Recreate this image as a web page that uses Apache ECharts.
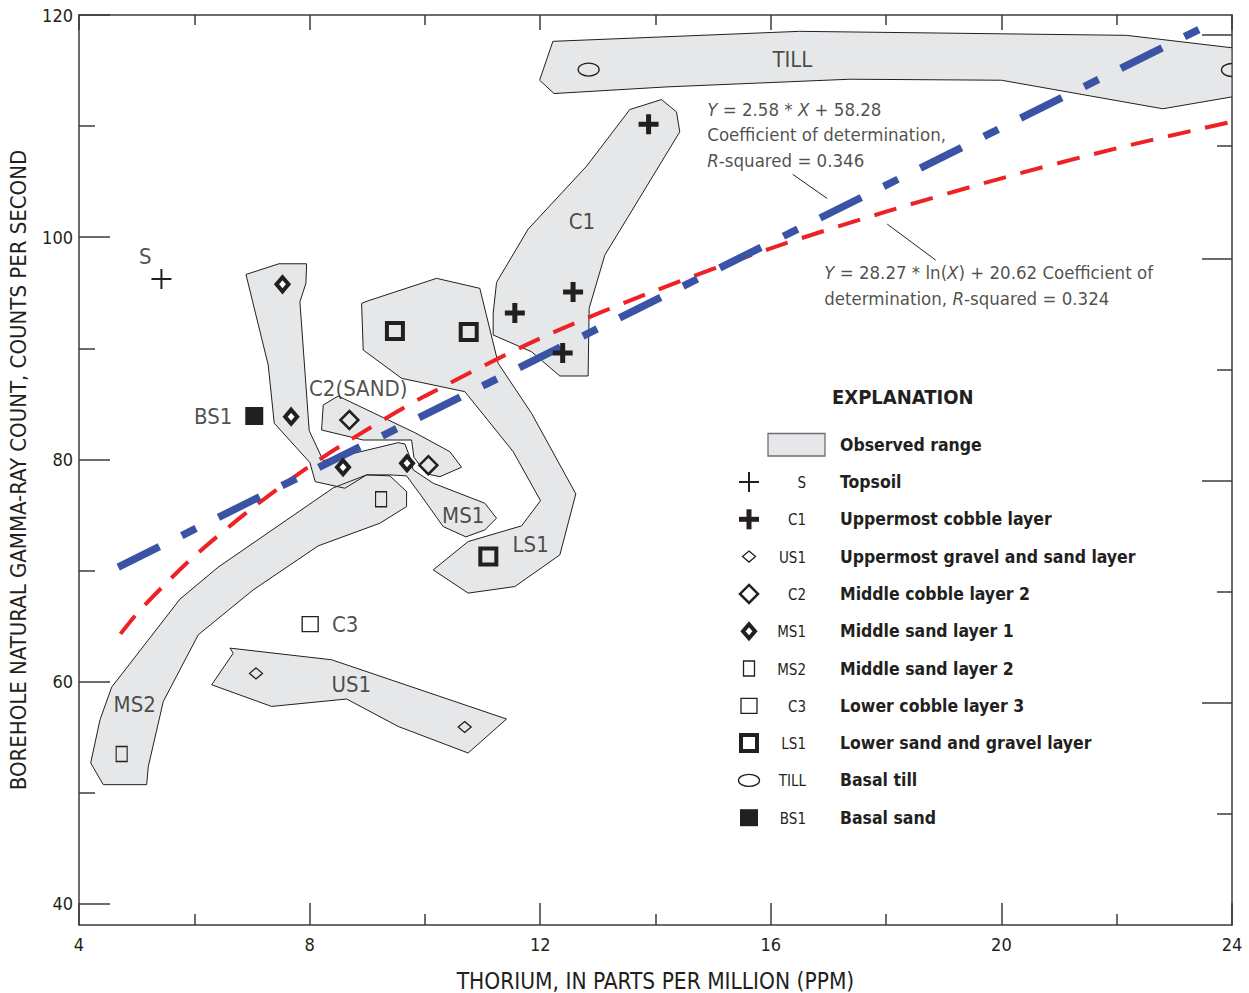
<!DOCTYPE html>
<html><head><meta charset="utf-8">
<script src="https://cdn.jsdelivr.net/npm/echarts@6/dist/echarts.min.js"></script>
<style>html,body{margin:0;padding:0;background:#fff}#c{width:1249px;height:993px}</style>
</head><body><div id="c"></div>
<script>
const FONT = "'Liberation Sans Narrow','DejaVu Sans Condensed','Liberation Sans',sans-serif";
const INK = '#231f20';
const AX = '#3b3b3b';

// ---- axes ----
const xMin = 4, xMax = 24, xStep = 4;
const yMin = 38.1, yMax = 120;
const yTickLabels = [40, 60, 80, 100, 120];
const yMinorTicks = [50, 70, 90, 110];
const rightMajorTicks = [58.1, 78.1, 98.1, 118.2];
const rightMinorTicks = [48.1, 68.1, 88.1, 108.2];

// ---- samples (thorium ppm, counts per second) ----
const ptsS   = [[5.43, 96.23]];
const ptsC1  = [[13.88, 110.17], [12.57, 95.06], [11.56, 93.17], [12.39, 89.57]];
const ptsUS1 = [[7.07, 60.74], [10.69, 55.92]];
const ptsC2  = [[8.69, 83.55], [10.06, 79.48]];
const ptsMS1 = [[7.53, 95.76], [7.68, 83.85], [8.58, 79.30], [9.69, 79.66]];
const ptsMS2 = [[9.24, 76.42], [4.74, 53.49]];
const ptsC3  = [[8.01, 65.18]];
const ptsLS1 = [[9.48, 91.55], [10.76, 91.47], [11.10, 71.26]];
const ptsTILL = [[12.84, 115.09], [24.0, 115.05]];
const ptsBS1 = [[7.04, 83.91]];

// ---- observed ranges (polygon outlines) ----
const rangeTILL = [[12.22,117.63],[16.50,118.53],[22.17,118.17],[24.0,117.05],[24.0,112.63],[22.80,111.56],[20.00,114.13],[17.37,114.22],[14.20,113.53],[12.24,112.93],[11.99,114.13]];
const rangeC1 = [[11.243,95.94],[11.791,100.73],[12.804,106.39],[13.554,111.49],[14.104,112.39],[14.364,111.28],[14.421,109.48],[13.121,98.39],[12.849,93.60],[12.831,87.51],[12.341,87.51],[11.850,89.69],[11.184,91.20],[11.184,93.15]];
const rangeLS1 = [[8.902,94.05],[9.017,94.28],[10.203,96.30],[10.953,95.40],[11.271,88.65],[11.850,84.15],[12.618,76.90],[12.341,71.41],[11.560,68.56],[10.750,67.97],[10.144,70.06],[10.750,72.61],[11.676,74.02],[12.006,76.29],[11.531,80.70],[10.693,86.10],[9.596,87.30],[8.930,89.85]];
const rangeC2 = [[8.236,84.90],[8.496,85.71],[8.699,85.20],[9.826,82.41],[10.433,80.70],[10.636,79.30],[10.260,78.45],[10.029,78.70],[9.809,80.20],[9.769,81.75],[8.930,81.75],[8.208,82.65]];
const rangeMS1 = [[6.896,96.65],[7.468,97.61],[7.948,97.61],[7.936,95.85],[7.832,94.19],[7.993,82.59],[8.236,79.89],[9.537,81.51],[9.653,81.39],[9.740,80.20],[9.797,79.06],[10.144,77.86],[11.040,76.06],[11.243,74.71],[11.040,73.66],[10.711,73.03],[10.317,73.96],[9.913,76.90],[9.682,78.52],[9.393,78.61],[8.989,78.61],[8.612,77.41],[8.097,78.00],[8.006,79.71],[7.387,83.26],[7.282,88.50]];
const rangeMS2 = [[8.410,77.44],[8.989,78.61],[9.393,78.52],[9.682,77.11],[9.682,75.76],[9.219,74.26],[8.149,72.22],[7.022,68.26],[6.069,64.22],[5.462,58.22],[5.202,52.37],[5.174,50.73],[4.421,50.73],[4.203,52.68],[4.364,56.57],[4.567,59.51],[5.751,67.43],[6.415,70.31]];
const rangeUS1 = [[6.618,63.02],[8.382,61.97],[11.416,56.64],[10.750,53.58],[9.537,55.97],[8.642,58.44],[7.341,57.77],[6.301,59.72],[6.676,62.57]];
const ranges = [rangeTILL, rangeC1, rangeLS1, rangeC2, rangeMS1, rangeMS2, rangeUS1];

// ---- fitted lines as drawn ----
const linearFit = [[4.68, 70.3], [23.7, 119.4]];
const logFit = [[4.72,64.3],[5,66.1],[5.5,68.8],[6,71.3],[7,75.6],[8,79.4],[9,82.7],[10,85.7],[12,90.9],[14,95.2],[16,99.0],[18,102.3],[20,105.3],[22,108.0],[24,110.4]];
const leader1 = [[16.38, 105.66], [16.98, 103.48]];
const leader2 = [[18.02, 101.18], [18.86, 97.94]];

// ---- labels inside plot ----
const plotLabels = [['S',5.149,98.24],['C1',12.725,101.42],['C2(SAND)',8.843,86.40],['BS1',6.327,83.85],['MS1',10.664,74.98],['LS1',11.834,72.31],['C3',8.618,65.14],['US1',8.722,59.79],['MS2',4.966,57.99],['TILL',16.374,115.99]];
const ann1Pos = [14.907, 112.64];
const ann1Text = '{i|Y} = 2.58 * {i|X} + 58.28\nCoefficient of determination,\n{i|R}-squared = 0.346';
const ann2Pos = [16.936, 97.89];
const ann2Text = '{i|Y} = 28.27 * ln({i|X}) + 20.62 Coefficient of\ndetermination, {i|R}-squared = 0.324';

// ---- explanation ----
const legendRows = [
  ['S','Topsoil'],['C1','Uppermost cobble layer'],['US1','Uppermost gravel and sand layer'],
  ['C2','Middle cobble layer 2'],['MS1','Middle sand layer 1'],['MS2','Middle sand layer 2'],
  ['C3','Lower cobble layer 3'],['LS1','Lower sand and gravel layer'],['TILL','Basal till'],['BS1','Basal sand']
];

const PLUS_THIN = 'path://M0,9H20V11H0Z M9,0H11V20H9Z';
const PLUS_BOLD = 'path://M0,7.5H20V12.5H0Z M7.5,0H12.5V20H7.5Z';
const SYM = {
  S:   {symbol: PLUS_THIN, size: [20,20], fill: INK, bw: 0},
  C1:  {symbol: PLUS_BOLD, size: [20,20], fill: INK, bw: 0},
  US1: {symbol: 'diamond', size: [13,11], fill: 'transparent', bw: 1.3},
  C2:  {symbol: 'diamond', size: [18,18], fill: 'transparent', bw: 2.5},
  MS1: {symbol: 'diamond', size: [12,14], fill: '#ffffff', bw: 4},
  MS2: {symbol: 'rect', size: [11,15], fill: 'transparent', bw: 1.3},
  C3:  {symbol: 'rect', size: [16,15], fill: 'transparent', bw: 1.3},
  LS1: {symbol: 'rect', size: [16,16], fill: 'transparent', bw: 4},
  BS1: {symbol: 'rect', size: [18,18], fill: INK, bw: 0}
};
const ptsByCode = {S: ptsS, C1: ptsC1, US1: ptsUS1, C2: ptsC2, MS1: ptsMS1, MS2: ptsMS2, C3: ptsC3, LS1: ptsLS1, BS1: ptsBS1};

const txt = (size, weight) => ({fontFamily: FONT, fontSize: size, fontWeight: weight || 'normal', color: INK});

const series = [];
// polygon fills
series.push({
  type: 'custom', name: 'rangeFill', clip: true, silent: true, z: 1,
  data: ranges.map((r, i) => [r[0][0], r[0][1], i]),
  renderItem: function (params, api) {
    const poly = ranges[api.value(2)];
    return {type: 'polygon', shape: {points: poly.map(p => api.coord(p))}, style: {fill: '#e6e7e8', stroke: null}};
  }
});
// polygon outlines
series.push({
  type: 'custom', name: 'rangeEdge', clip: true, silent: true, z: 2,
  data: ranges.map((r, i) => [r[0][0], r[0][1], i]),
  renderItem: function (params, api) {
    const poly = ranges[api.value(2)];
    return {type: 'polygon', shape: {points: poly.map(p => api.coord(p))}, style: {fill: 'none', stroke: INK, lineWidth: 1}};
  }
});
// fitted lines
series.push({type: 'line', name: 'log', data: logFit, smooth: 0.3, symbol: 'none', silent: true, z: 3,
  lineStyle: {color: '#ee2124', width: 4, type: [23, 15], cap: 'butt'}});
series.push({type: 'line', name: 'linear', data: linearFit, symbol: 'none', silent: true, z: 4,
  lineStyle: {color: '#3a53a4', width: 7.5, type: [46, 25, 16, 25], cap: 'butt'}});
series.push({type: 'line', name: 'leader1', data: leader1, symbol: 'none', silent: true, z: 4, lineStyle: {color: INK, width: 1}});
series.push({type: 'line', name: 'leader2', data: leader2, symbol: 'none', silent: true, z: 4, lineStyle: {color: INK, width: 1}});
// sample markers
Object.keys(ptsByCode).forEach(code => {
  const s = SYM[code];
  series.push({type: 'scatter', name: code, data: ptsByCode[code], symbol: s.symbol, symbolSize: s.size, silent: true, z: 5,
    itemStyle: {color: s.fill, borderColor: INK, borderWidth: s.bw, opacity: 1}});
});
series.push({
  type: 'custom', name: 'TILL', clip: true, silent: true, z: 5, data: ptsTILL,
  renderItem: function (params, api) {
    const c = api.coord([api.value(0), api.value(1)]);
    return {type: 'ellipse', shape: {cx: c[0], cy: c[1], rx: 10.5, ry: 6.5}, style: {fill: 'none', stroke: INK, lineWidth: 1.3}};
  }
});
// text labels
series.push({type: 'scatter', name: 'labels', silent: true, z: 6, symbolSize: 1, itemStyle: {color: 'transparent'},
  data: plotLabels.map(d => ({name: d[0], value: [d[1], d[2]]})),
  label: {show: true, position: 'inside', formatter: '{b}', ...txt(22)}});
const richI = {i: {fontStyle: 'italic', fontFamily: FONT, fontSize: 18.5, color: INK}};
[[ann1Pos, ann1Text], [ann2Pos, ann2Text]].forEach(([pos, t]) => {
  series.push({type: 'scatter', silent: true, z: 6, symbolSize: 1, itemStyle: {color: 'transparent'},
    data: [{value: pos}],
    label: {show: true, position: [0, 0], align: 'left', verticalAlign: 'top', formatter: t, lineHeight: 25.5,
      ...txt(18.5), rich: richI}});
});

// explanation graphic
const graphic = [];
const LX = 749, CODE_R = 806, DESC_L = 840;
graphic.push({type: 'text', x: 832, y: 397, style: {text: 'EXPLANATION', font: "bold 20px " + FONT, fill: INK, align: 'left', verticalAlign: 'middle'}});
graphic.push({type: 'rect', shape: {x: 768, y: 433.5, width: 57, height: 22.5}, style: {fill: '#e6e7e8', stroke: '#6d6e71', lineWidth: 1.3}});
graphic.push({type: 'text', x: DESC_L, y: 445, style: {text: 'Observed range', font: "bold 17.5px " + FONT, fill: INK, align: 'left', verticalAlign: 'middle'}});
function legendSym(code, cx, cy) {
  const st = (fill, lw) => ({fill: fill, stroke: lw ? INK : null, lineWidth: lw || 0});
  switch (code) {
    case 'S': return [{type: 'rect', shape: {x: cx-10, y: cy-1, width: 20, height: 2}, style: st(INK)}, {type: 'rect', shape: {x: cx-1, y: cy-10, width: 2, height: 20}, style: st(INK)}];
    case 'C1': return [{type: 'rect', shape: {x: cx-10, y: cy-2.5, width: 20, height: 5}, style: st(INK)}, {type: 'rect', shape: {x: cx-2.5, y: cy-10, width: 5, height: 20}, style: st(INK)}];
    case 'US1': return [{type: 'polygon', shape: {points: [[cx, cy-5.5], [cx+6.5, cy], [cx, cy+5.5], [cx-6.5, cy]]}, style: st('none', 1.3)}];
    case 'C2': return [{type: 'polygon', shape: {points: [[cx, cy-9], [cx+9, cy], [cx, cy+9], [cx-9, cy]]}, style: st('none', 2.5)}];
    case 'MS1': return [{type: 'polygon', shape: {points: [[cx, cy-7], [cx+6, cy], [cx, cy+7], [cx-6, cy]]}, style: st('#fff', 4)}];
    case 'MS2': return [{type: 'rect', shape: {x: cx-5.5, y: cy-7.5, width: 11, height: 15}, style: st('none', 1.3)}];
    case 'C3': return [{type: 'rect', shape: {x: cx-8, y: cy-7.5, width: 16, height: 15}, style: st('none', 1.3)}];
    case 'LS1': return [{type: 'rect', shape: {x: cx-8, y: cy-8, width: 16, height: 16}, style: st('none', 4)}];
    case 'TILL': return [{type: 'ellipse', shape: {cx: cx, cy: cy, rx: 10.5, ry: 6}, style: st('none', 1.3)}];
    case 'BS1': return [{type: 'rect', shape: {x: cx-9, y: cy-8.5, width: 18, height: 17}, style: st(INK)}];
  }
  return [];
}
legendRows.forEach((row, i) => {
  const cy = 482 + i * 37.3;
  legendSym(row[0], LX, cy).forEach(g => graphic.push(g));
  graphic.push({type: 'text', x: CODE_R, y: cy + 1, style: {text: row[0], font: "15px " + FONT, fill: INK, align: 'right', verticalAlign: 'middle'}});
  graphic.push({type: 'text', x: DESC_L, y: cy, style: {text: row[1], font: "bold 17.5px " + FONT, fill: INK, align: 'left', verticalAlign: 'middle'}});
});

const axLine = {show: true, onZero: false, lineStyle: {color: AX, width: 1.5}};
const tickStyle = {color: AX, width: 1.5};
const option = {
  animation: false,
  backgroundColor: '#fff',
  grid: {left: 79, top: 15, width: 1153, height: 910, containLabel: false, outerBoundsMode: 'none'},
  xAxis: [
    {type: 'value', position: 'bottom', min: xMin, max: xMax, interval: xStep,
      axisLine: axLine, axisTick: {show: true, inside: true, length: 22, lineStyle: tickStyle},
      minorTick: {show: true, splitNumber: 2, length: 11, lineStyle: tickStyle},
      axisLabel: {show: true, margin: 10, ...txt(18)},
      splitLine: {show: false}, minorSplitLine: {show: false},
      name: 'THORIUM, IN PARTS PER MILLION (PPM)', nameLocation: 'middle', nameGap: 44, nameMoveOverlap: false,
      nameTextStyle: txt(22.5)},
    {type: 'value', position: 'top', min: xMin, max: xMax, interval: xStep,
      axisLine: axLine, axisTick: {show: true, inside: true, length: 15, lineStyle: tickStyle},
      minorTick: {show: true, splitNumber: 2, length: 10, lineStyle: tickStyle},
      axisLabel: {show: false}, splitLine: {show: false}, minorSplitLine: {show: false}}
  ],
  yAxis: [
    {type: 'value', position: 'left', min: yMin, max: yMax,
      axisLine: axLine, axisTick: {show: true, inside: true, length: 31, lineStyle: tickStyle, customValues: yTickLabels},
      axisLabel: {show: true, margin: 6, customValues: yTickLabels, ...txt(18)},
      splitLine: {show: false},
      name: 'BOREHOLE NATURAL GAMMA-RAY COUNT, COUNTS PER SECOND', nameLocation: 'middle', nameGap: 50, nameRotate: 90, nameMoveOverlap: false,
      nameTextStyle: txt(22)},
    {type: 'value', position: 'left', min: yMin, max: yMax,
      axisLine: {show: false}, axisTick: {show: true, inside: true, length: 16, lineStyle: tickStyle, customValues: yMinorTicks},
      axisLabel: {show: false}, splitLine: {show: false}},
    {type: 'value', position: 'right', min: yMin, max: yMax,
      axisLine: axLine, axisTick: {show: true, inside: true, length: 30, lineStyle: tickStyle, customValues: rightMajorTicks},
      axisLabel: {show: false}, splitLine: {show: false}},
    {type: 'value', position: 'right', min: yMin, max: yMax,
      axisLine: {show: false}, axisTick: {show: true, inside: true, length: 15, lineStyle: tickStyle, customValues: rightMinorTicks},
      axisLabel: {show: false}, splitLine: {show: false}}
  ],
  series: series,
  graphic: graphic
};
const chart = echarts.init(document.getElementById('c'), null, {renderer: 'svg'});
chart.setOption(option);
</script>
</body></html>
